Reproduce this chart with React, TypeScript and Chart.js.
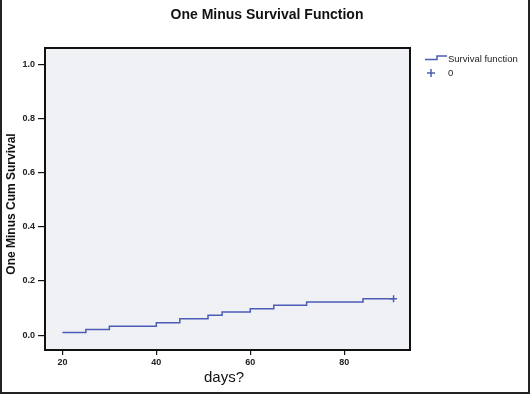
import React, { useEffect, useRef } from "react";
import { Chart, registerables } from "chart.js";

Chart.register(...registerables);

const eventDays = [20, 25, 30, 40, 45, 51, 54, 60, 65, 72, 84, 90.5];
const oneMinusSurvival = [0.01, 0.021, 0.033, 0.046, 0.06, 0.073, 0.085, 0.097, 0.11, 0.122, 0.134, 0.134];
const censoredDays = [90.5];
const censoredValues = [0.134];
const xTicks = [20, 40, 60, 80];
const yTicks = [0, 0.2, 0.4, 0.6, 0.8, 1.0];

const chartTitle = "One Minus Survival Function";
const xTitle = "days?";
const yTitle = "One Minus Cum Survival";
const legendLine = "Survival function";
const legendCensor = "0";

const LINE = "#4b5cb6";

export default function App() {
  const ref = useRef<HTMLCanvasElement>(null);
  useEffect(() => {
    document.body.style.margin = "0";
    const ctx = ref.current!.getContext("2d")!;
    const deco = {
      id: "deco",
      beforeDatasetsDraw(chart: any) {
        const { ctx, chartArea: a } = chart;
        ctx.save();
        ctx.fillStyle = "#f0f1f4";
        ctx.fillRect(a.left, a.top, a.right - a.left, a.bottom - a.top);
        ctx.restore();
      },
      afterDraw(chart: any) {
        const { ctx, chartArea: a } = chart;
        ctx.save();
        ctx.strokeStyle = "#111";
        ctx.lineWidth = 2;
        ctx.strokeRect(a.left, a.top, a.right - a.left, a.bottom - a.top);
        // outer frame
        ctx.fillStyle = "#222";
        ctx.fillRect(0, 0, 2, 394);
        ctx.fillRect(528, 0, 2, 394);
        ctx.fillRect(0, 392, 530, 2);
        // title
        ctx.fillStyle = "#111";
        ctx.textAlign = "center";
        ctx.textBaseline = "middle";
        ctx.font = "bold 14px 'Liberation Sans', Arial, sans-serif";
        ctx.fillText(chartTitle, 267, 15);
        // x title
        ctx.font = "15px 'Liberation Sans', Arial, sans-serif";
        ctx.fillText(xTitle, 224, 378);
        // y title
        ctx.save();
        ctx.translate(12, 204);
        ctx.rotate(-Math.PI / 2);
        ctx.font = "bold 12px 'Liberation Sans', Arial, sans-serif";
        ctx.fillText(yTitle, 0, 0);
        ctx.restore();
        // legend
        ctx.strokeStyle = LINE;
        ctx.lineWidth = 1.5;
        ctx.beginPath();
        ctx.moveTo(425, 59.5);
        ctx.lineTo(437, 59.5);
        ctx.lineTo(437, 56);
        ctx.lineTo(447, 56);
        ctx.stroke();
        ctx.beginPath();
        ctx.moveTo(427, 73);
        ctx.lineTo(435, 73);
        ctx.moveTo(431, 69);
        ctx.lineTo(431, 77);
        ctx.stroke();
        ctx.fillStyle = "#222";
        ctx.textAlign = "left";
        ctx.font = "9.5px 'Liberation Sans', Arial, sans-serif";
        ctx.fillText(legendLine, 448, 59.5);
        ctx.fillText(legendCensor, 448, 73);
        ctx.restore();
      },
    };
    const chart = new Chart(ctx, {
      type: "line",
      data: {
        datasets: [
          {
            label: legendLine,
            data: eventDays.map((x, i) => ({ x, y: oneMinusSurvival[i] })),
            borderColor: LINE,
            borderWidth: 1.5,
            stepped: "before",
            pointRadius: 0,
            fill: false,
          },
          {
            label: legendCensor,
            data: censoredDays.map((x, i) => ({ x, y: censoredValues[i] })),
            showLine: false,
            pointStyle: "cross",
            pointRadius: 3.5,
            borderColor: LINE,
            borderWidth: 1.5,
          },
        ],
      },
      options: {
        animation: false,
        responsive: false,
        layout: { padding: { left: 0, top: 48, right: 120, bottom: 0 } },
        plugins: { legend: { display: false }, title: { display: false }, tooltip: { enabled: false } },
        scales: {
          x: {
            type: "linear",
            min: 16.3,
            max: 94,
            afterBuildTicks: (s: any) => {
              s.ticks = xTicks.map((v) => ({ value: v }));
            },
            afterFit: (s: any) => {
              s.height = 44;
            },
            border: { display: false },
            grid: { drawOnChartArea: false, drawTicks: true, tickLength: 5, color: "#111", lineWidth: 1.2 },
            ticks: {
              padding: 2,
              color: "#222",
              font: { size: 9, weight: "bold", family: "'Liberation Sans', Arial, sans-serif" },
              callback: (v: any) => String(v),
            },
          },
          y: {
            type: "linear",
            min: -0.055,
            max: 1.06,
            afterBuildTicks: (s: any) => {
              s.ticks = yTicks.map((v) => ({ value: v }));
            },
            afterFit: (s: any) => {
              s.width = 45;
            },
            border: { display: false },
            grid: { drawOnChartArea: false, drawTicks: true, tickLength: 7, color: "#111", lineWidth: 1.2 },
            ticks: {
              padding: 3,
              color: "#222",
              font: { size: 9, weight: "bold", family: "'Liberation Sans', Arial, sans-serif" },
              callback: (v: any) => Number(v).toFixed(1),
            },
          },
        },
      },
      plugins: [deco],
    });
    return () => chart.destroy();
  }, []);
  return (
    <div style={{ width: 530, height: 394, background: "#fff" }}>
      <canvas ref={ref} width={530} height={394} style={{ display: "block" }} />
    </div>
  );
}
